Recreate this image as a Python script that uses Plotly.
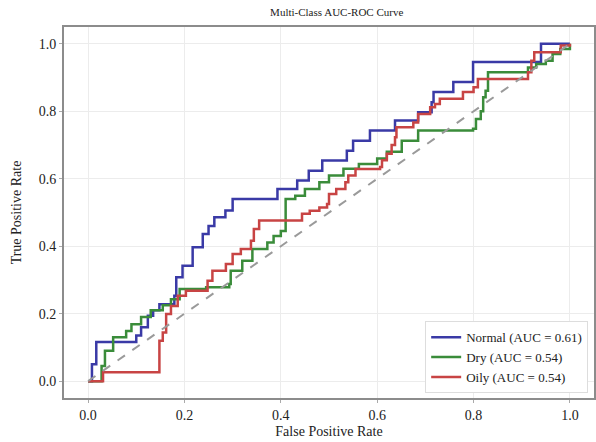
import plotly.graph_objects as go

# Step points (x where step happens, y after step) for hv-shaped ROC curves
normal_fpr = [0, 0.008, 0.017, 0.10, 0.11, 0.124, 0.135, 0.148, 0.179, 0.183, 0.196, 0.217, 0.238, 0.25, 0.262, 0.285, 0.30,
              0.393, 0.434, 0.458, 0.486, 0.537, 0.55, 0.585, 0.637, 0.685, 0.713, 0.717, 0.758, 0.799, 0.94, 1.0]
normal_tpr = [0, 0.05, 0.116, 0.135, 0.16, 0.194, 0.21, 0.228, 0.253, 0.308, 0.342, 0.397, 0.436, 0.46, 0.486, 0.506, 0.54,
              0.57, 0.595, 0.624, 0.654, 0.683, 0.713, 0.743, 0.773, 0.797, 0.827, 0.857, 0.887, 0.946, 1.0, 1.0]

dry_fpr = [0, 0.028, 0.035, 0.052, 0.079, 0.09, 0.11, 0.13, 0.155, 0.172, 0.19, 0.245, 0.293, 0.296, 0.32, 0.341, 0.372, 0.385,
           0.40, 0.41, 0.43, 0.45, 0.48, 0.50, 0.53, 0.562, 0.60, 0.62, 0.651, 0.685, 0.799, 0.805, 0.815, 0.82, 0.825, 0.83,
           0.913, 0.93, 0.95, 0.964, 0.98, 1.0]
dry_tpr = [0, 0.045, 0.09, 0.13, 0.149, 0.169, 0.19, 0.21, 0.225, 0.243, 0.273, 0.278, 0.288, 0.327, 0.357, 0.392, 0.411, 0.43,
           0.445, 0.54, 0.55, 0.57, 0.59, 0.61, 0.63, 0.644, 0.66, 0.68, 0.713, 0.743, 0.748, 0.777, 0.80, 0.842, 0.861, 0.916,
           0.93, 0.94, 0.95, 0.97, 0.985, 1.0]

oily_fpr = [0, 0.031, 0.148, 0.155, 0.162, 0.172, 0.186, 0.203, 0.248, 0.258, 0.286, 0.30, 0.317, 0.338, 0.344, 0.355, 0.444,
            0.46, 0.48, 0.496, 0.50, 0.515, 0.534, 0.54, 0.555, 0.606, 0.61, 0.62, 0.63, 0.637, 0.64, 0.675, 0.685, 0.71, 0.72,
            0.73, 0.778, 0.80, 0.809, 0.913, 0.92, 0.926, 0.981, 1.0]
oily_tpr = [0, 0.026, 0.12, 0.144, 0.199, 0.223, 0.253, 0.268, 0.298, 0.327, 0.347, 0.377, 0.392, 0.416, 0.451, 0.476, 0.496,
            0.505, 0.515, 0.525, 0.555, 0.57, 0.59, 0.61, 0.629, 0.635, 0.655, 0.674, 0.70, 0.723, 0.753, 0.767, 0.792, 0.812, 0.822,
            0.837, 0.857, 0.871, 0.896, 0.916, 0.95, 0.975, 0.995, 1.0]

labels = ["Normal (AUC = 0.61)", "Dry (AUC = 0.54)", "Oily (AUC = 0.54)"]
colors = ["#3a3aa6", "#3a8c3a", "#c84444"]
tick_vals = [0.0, 0.2, 0.4, 0.6, 0.8, 1.0]
chance = [0, 1]

FONT = "Liberation Serif"

fig = go.Figure()
for fx, ty, lab, col in zip([normal_fpr, dry_fpr, oily_fpr], [normal_tpr, dry_tpr, oily_tpr], labels, colors):
    fig.add_trace(go.Scatter(x=fx, y=ty, mode="lines", line=dict(color=col, width=2.5, shape="hv"), name=lab))

fig.add_trace(go.Scatter(x=chance, y=chance, mode="lines", line=dict(color="#9a9a9a", width=2, dash="dash"),
                         showlegend=False))

axis_common = dict(
    range=[-0.05, 1.05], tickvals=tick_vals, tickformat=".1f",
    showgrid=True, gridcolor="#ececec", gridwidth=1, zeroline=False,
    showline=True, mirror=True, linecolor="#8c8c8c", linewidth=2,
    ticks="outside", ticklen=3, tickcolor="#aaaaaa", tickwidth=1,
    tickfont=dict(family=FONT, size=14, color="#222"),
    title_font=dict(family=FONT, size=14, color="#222"),
)

fig.update_layout(
    width=596, height=442,
    margin=dict(l=64, r=0, t=27, b=44),
    paper_bgcolor="white", plot_bgcolor="white",
    title=dict(text="Multi-Class AUC-ROC Curve", x=0.565, xanchor="center", y=0.973, yanchor="middle",
               font=dict(family=FONT, size=11, color="#222")),
    xaxis=dict(title=dict(text="False Positive Rate", standoff=4), **axis_common),
    yaxis=dict(title=dict(text="True Positive Rate", standoff=14), **axis_common),
    legend=dict(x=0.989, y=0.013, xanchor="right", yanchor="bottom",
                bgcolor="white", bordercolor="#dddddd", borderwidth=1,
                font=dict(family=FONT, size=13, color="#222"), tracegroupgap=0, itemwidth=30),
    showlegend=True,
)

fig.write_html("out.html")
